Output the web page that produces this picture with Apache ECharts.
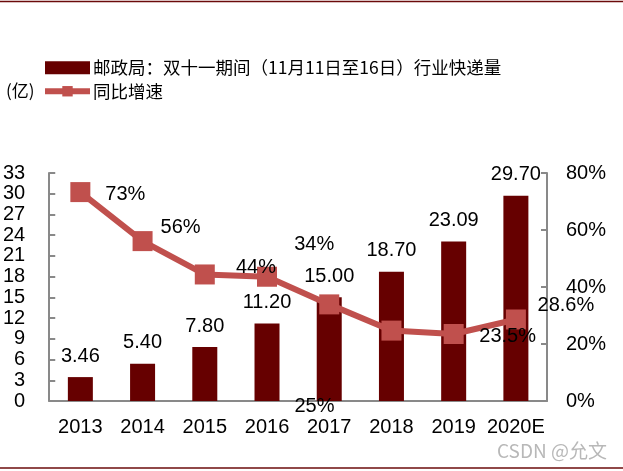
<!DOCTYPE html>
<html>
<head>
<meta charset="utf-8">
<script src="https://cdn.jsdelivr.net/npm/echarts@6/dist/echarts.min.js"></script>
<style>html,body{margin:0;padding:0;background:#fff}#c{width:623px;height:471px}</style>
</head>
<body>
<div id="c"></div>
<script>
const categories = ['2013','2014','2015','2016','2017','2018','2019','2020E'];
const volume = [3.46, 5.40, 7.80, 11.20, 15.00, 18.70, 23.09, 29.70];
const growth = [73.3, 56.1, 44.4, 43.6, 33.9, 24.7, 23.5, 28.6];
const growthLabels = ['73%', '56%', '', '44%', '34%', '25%', '23.5%', '28.6%'];
const growthLabelOffsets = [[45,2],[38,-14],[0,0],[-11,-9],[-15,-60],[-77,76],[54,2],[50,-14]];
const leftTicks = {min: 0, max: 33, interval: 3};
const rightTicks = {min: 0, max: 80, interval: 20};

const FONT = '"Liberation Sans", Arial, sans-serif';
const CJK = '"Noto Sans CJK SC", sans-serif';

const chart = echarts.init(document.getElementById('c'), null, {renderer: 'canvas'});
chart.setOption({
  animation: false,
  backgroundColor: '#fff',
  grid: {left: 49, right: 76, top: 173, bottom: 70, containLabel: false},
  legend: {
    orient: 'vertical', left: 42, top: 59, padding: 0, itemWidth: 45, itemHeight: 13, itemGap: 6,
    textStyle: {fontFamily: CJK, fontSize: 17.5, color: '#000', padding: [0,0,0,-2]},
    data: [
      {name: '邮政局：双十一期间（11月11日至16日）行业快递量', icon: 'rect'},
      {name: '同比增速', lineStyle: {width: 6, color: '#c0504d'}, itemStyle: {color: '#c0504d'}}
    ]
  },
  graphic: [
    {type: 'text', left: 6, top: 82, style: {text: '(亿)', font: '17px "Noto Sans CJK SC"', fill: '#000'}},
    {type: 'line', shape: {x1: 0, y1: 1.5, x2: 623, y2: 1.5}, style: {stroke: '#6b0b0b', lineWidth: 1.5}},
    {type: 'line', shape: {x1: 0, y1: 468, x2: 623, y2: 468}, style: {stroke: '#6b0b0b', lineWidth: 1.5}},
    {type: 'text', left: 497, top: 441, style: {text: 'CSDN @允文', font: '19px "Noto Sans CJK SC"', fill: '#b8b8b8'}}
  ],
  xAxis: {
    type: 'category', data: categories,
    axisLine: {lineStyle: {color: '#898989', width: 2}},
    axisTick: {inside: true, length: 5, lineStyle: {color: '#898989', width: 2}},
    axisLabel: {fontFamily: FONT, fontSize: 20, color: '#000', margin: 16, interval: 0}
  },
  yAxis: [
    {
      type: 'value', min: leftTicks.min, max: leftTicks.max, interval: leftTicks.interval,
      splitLine: {show: false},
      axisLine: {show: true, lineStyle: {color: '#898989', width: 2}},
      axisTick: {show: true, inside: true, length: 6, lineStyle: {color: '#898989', width: 2}},
      axisLabel: {fontFamily: FONT, fontSize: 20, color: '#000', margin: 24}
    },
    {
      type: 'value', min: rightTicks.min, max: rightTicks.max, interval: rightTicks.interval,
      splitLine: {show: false},
      axisLine: {show: true, lineStyle: {color: '#898989', width: 2}},
      axisTick: {show: true, inside: true, length: 6, lineStyle: {color: '#898989', width: 2}},
      axisLabel: {fontFamily: FONT, fontSize: 20, color: '#000', margin: 19, formatter: '{value}%'}
    }
  ],
  series: [
    {
      name: '邮政局：双十一期间（11月11日至16日）行业快递量',
      type: 'bar', yAxisIndex: 0, barWidth: 25,
      itemStyle: {color: '#660000'},
      data: volume,
      label: {show: true, position: 'top', distance: 11, fontFamily: FONT, fontSize: 20, color: '#000',
        formatter: p => p.value.toFixed(2)}
    },
    {
      name: '同比增速',
      type: 'line', yAxisIndex: 1, z: 5,
      symbol: 'rect', symbolSize: 20,
      lineStyle: {color: '#c0504d', width: 6},
      itemStyle: {color: '#c0504d'},
      data: growth.map((v, i) => ({
        value: v,
        label: {show: growthLabels[i] !== '', position: 'inside', offset: growthLabelOffsets[i],
          formatter: growthLabels[i], fontFamily: FONT, fontSize: 20, color: '#000'}
      }))
    }
  ]
});
</script>
</body>
</html>
